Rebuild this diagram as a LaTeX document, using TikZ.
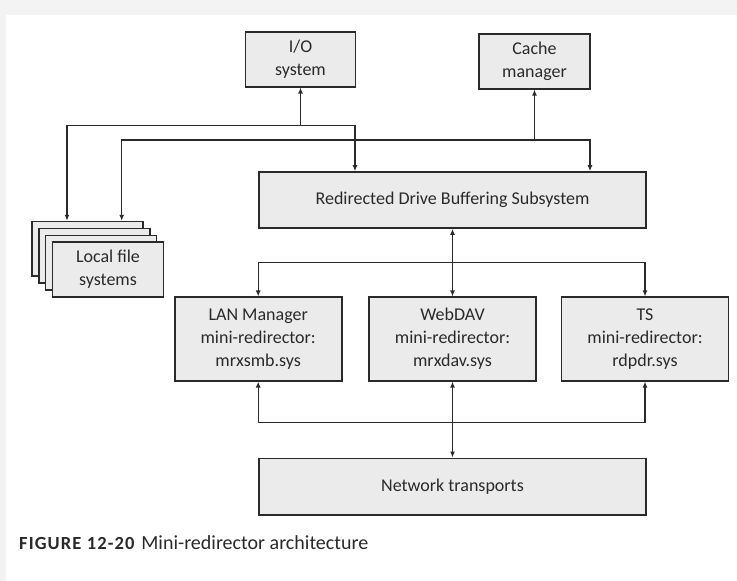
\documentclass[tikz,border=0pt]{standalone}
\usepackage{fontspec}
\setmainfont{Carlito}
\usetikzlibrary{arrows.meta}
\definecolor{bgout}{HTML}{F3F3F3}
\definecolor{boxfill}{HTML}{EBEBEB}
\definecolor{ink}{HTML}{2A2A2A}
\begin{document}
\begin{tikzpicture}[x=1pt,y=-1pt,
  box/.style={draw=ink,line width=1.7pt,fill=boxfill,inner sep=0pt,align=center,
    font=\fontsize{18}{23}\selectfont,text=ink},
  conn/.style={draw=ink,line width=1.4pt},
  tip/.style={-{Latex[length=6pt,width=5pt]}},
  tips/.style={{Latex[length=6pt,width=5pt]}-{Latex[length=6pt,width=5pt]}}]
\useasboundingbox (0,0) rectangle (737,581);
\fill[bgout] (0,0) rectangle (737,581);
\fill[white] (6,15) rectangle (737,581);

\node[box,minimum width=110pt,minimum height=55pt] (io) at (300.5,59.2) {I/O\\system};
\node[box,minimum width=111pt,minimum height=55pt] (cache) at (534.5,61.2) {Cache\\manager};
\node[box,minimum width=387pt,minimum height=56pt] (rdbs) at (452.5,200) {Redirected Drive Buffering Subsystem};

\node[box,minimum width=111pt,minimum height=54.4pt] (lfsd) at (87.3,248.8) {};
\node[box,minimum width=111pt,minimum height=54.4pt] (lfsc) at (94.2,255.7) {};
\node[box,minimum width=111pt,minimum height=54.4pt] (lfsb) at (101.1,262.6) {};
\node[box,minimum width=111pt,minimum height=54.4pt] (lfs) at (108,269.5) {Local file\\systems};

\node[box,minimum width=167pt,minimum height=83.4pt] (lan) at (258.2,339) {LAN Manager\\mini-redirector:\\mrxsmb.sys};
\node[box,minimum width=167pt,minimum height=83.4pt] (webdav) at (452.5,339) {WebDAV\\mini-redirector:\\mrxdav.sys};
\node[box,minimum width=167pt,minimum height=83.4pt] (ts) at (645,339) {TS\\mini-redirector:\\rdpdr.sys};

\node[box,minimum width=387pt,minimum height=56.7pt] (net) at (452.5,486.7) {Network transports};

\coordinate (a1) at (67,125.7);
\coordinate (a2) at (355,125.7);
\coordinate (a3) at (121.7,140);
\coordinate (a4) at (590,140);
\coordinate (b) at (452.5,262.3);
\coordinate (c) at (452.5,422.3);

\draw[conn,tips] (lfsd.north -| a1) -- (a1) -- (a2) -- (a2 |- rdbs.north);
\draw[conn,tips] (lfsd.north -| a3) -- (a3) -- (a4) -- (a4 |- rdbs.north);
\draw[conn,tip] (io.south |- a1) -- (io.south);
\draw[conn,tip] (cache.south |- a3) -- (cache.south);

\draw[conn,tips] (rdbs.south) -- (webdav.north);
\draw[conn,tip] (b) -| (lan.north);
\draw[conn,tip] (b) -| (ts.north);

\draw[conn,tip] (c) -| (lan.south);
\draw[conn,tip] (c) -| (ts.south);
\draw[conn,tips] (webdav.south) -- (net.north);

\node[anchor=base west,inner sep=0pt,text=ink] (cap) at (19,549)
  {{\fontsize{18.5}{20}\selectfont\addfontfeature{LetterSpace=6}\bfseries FIGURE 12-20}\hspace{7pt}{\fontsize{20}{22}\selectfont Mini-redirector architecture}};
\end{tikzpicture}
\end{document}
